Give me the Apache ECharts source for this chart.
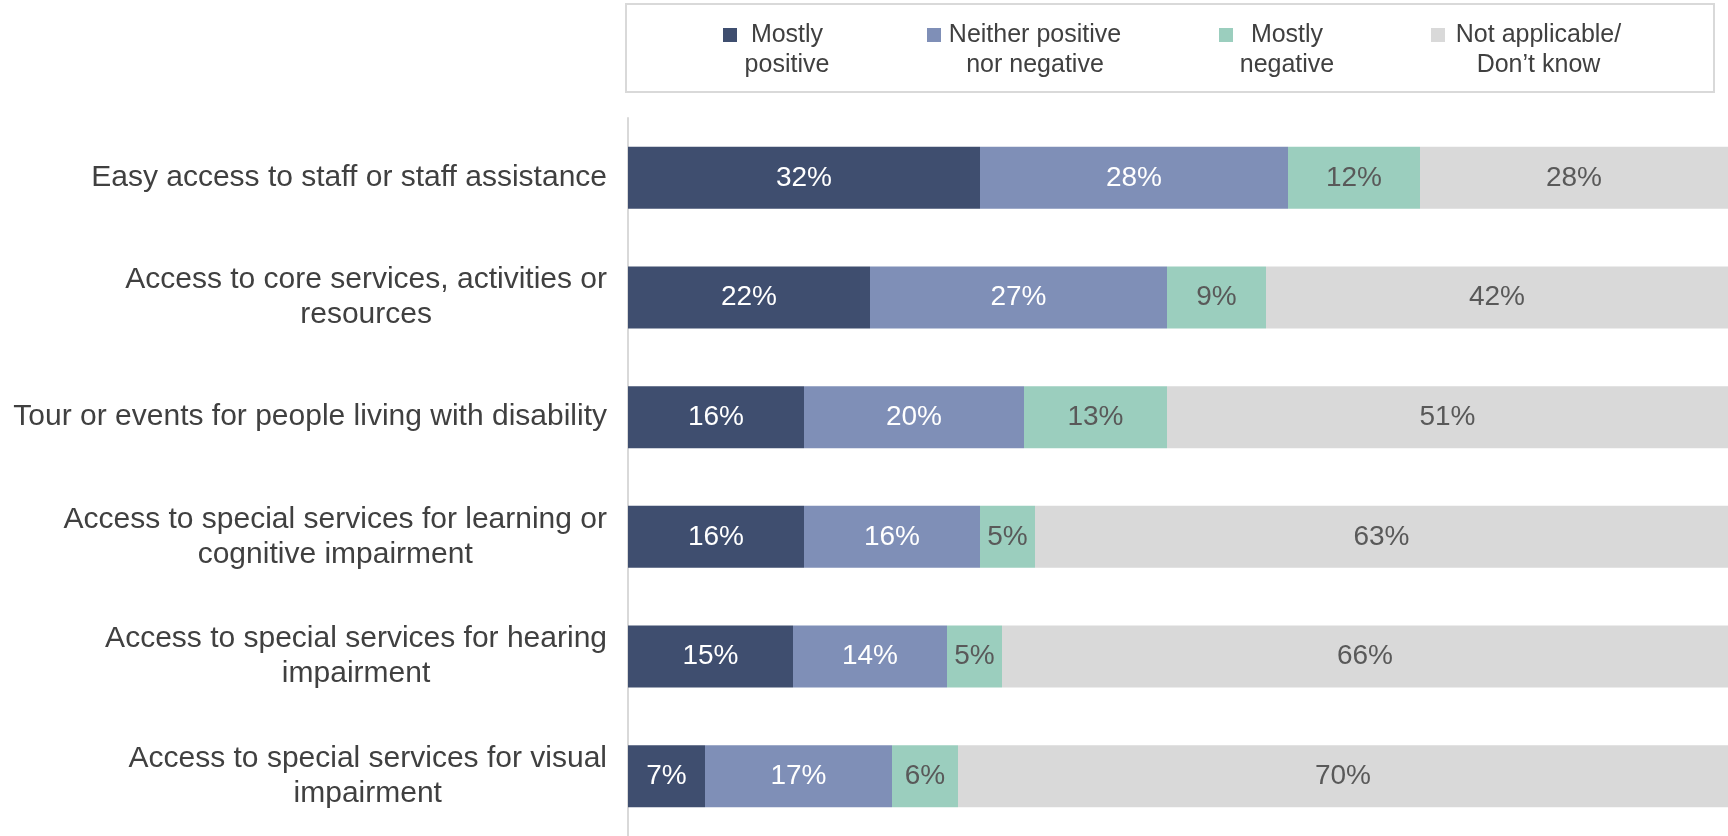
<!DOCTYPE html>
<html>
<head>
<meta charset="utf-8">
<script src="https://cdn.jsdelivr.net/npm/echarts@6/dist/echarts.min.js"></script>
<style>
  html, body { margin: 0; padding: 0; background: #ffffff; }
  #chart { width: 1728px; height: 836px; }
</style>
</head>
<body>
<div id="chart"></div>
<script>
// ---- Data ----
const categories = [
  'Easy access to staff or staff assistance',
  'Access to core services, activities or\nresources',
  'Tour or events for people living with disability',
  'Access to special services for learning or\ncognitive impairment',
  'Access to special services for hearing\nimpairment',
  'Access to special services for visual\nimpairment'
];
const seriesNames = [
  'Mostly\npositive',
  'Neither positive\nnor negative',
  'Mostly\nnegative',
  'Not applicable/\nDon\u2019t know'
];
const mostlyPositive = [32, 22, 16, 16, 15, 7];
const neitherPosNeg  = [28, 27, 20, 16, 14, 17];
const mostlyNegative = [12, 9, 13, 5, 5, 6];
const notApplicable  = [28, 42, 51, 63, 66, 70];

// ---- Styling ----
const FONT = "'Liberation Sans', Arial, sans-serif";
const colors = ['#3F4E6F', '#7F8FB7', '#9BCEBE', '#D9D9D9'];
const labelColors = ['#ffffff', '#ffffff', '#595959', '#595959'];
const legendTextWidths = [90, 178, 98, 177];

const values = [mostlyPositive, neitherPosNeg, mostlyNegative, notApplicable];

const legendRich = {};
legendTextWidths.forEach((w, i) => {
  legendRich['w' + i] = {
    width: w, align: 'center', fontSize: 25, lineHeight: 30,
    fontFamily: FONT, color: '#404040'
  };
});

const chart = echarts.init(document.getElementById('chart'), null, { renderer: 'canvas' });

const option = {
  backgroundColor: '#ffffff',
  animation: false,
  textStyle: { fontFamily: FONT },
  legend: {
    left: 626,
    top: 4,
    orient: 'horizontal',
    padding: [16.5, 87, 11.5, 97],
    borderColor: '#D9D9D9',
    borderWidth: 2,
    itemGap: 95,
    itemWidth: 14,
    itemHeight: 45,
    selectedMode: false,
    icon: 'path://M0,0L10,0L10,10L0,10Z M10,32.14L10,32.14',
    data: seriesNames,
    formatter: function (name) {
      const idx = seriesNames.indexOf(name);
      return name.split('\n').map(l => '{w' + idx + '|' + l + '}').join('\n');
    },
    textStyle: {
      fontSize: 25, lineHeight: 30, fontFamily: FONT, color: '#404040',
      rich: legendRich
    }
  },
  grid: { left: 628, right: 0, top: 118, bottom: -2, containLabel: false },
  xAxis: {
    type: 'value', min: 0, max: 100, show: false
  },
  yAxis: {
    type: 'category',
    inverse: true,
    data: categories,
    axisLine: { show: true, lineStyle: { color: '#D9D9D9', width: 2 } },
    axisTick: { show: false },
    splitLine: { show: false },
    axisLabel: {
      margin: 21,
      fontSize: 30,
      fontFamily: FONT,
      color: '#404040',
      lineHeight: 35,
      formatter: function (v) {
        return v.split('\n').map(l => '{c|' + l + '}').join('\n');
      },
      rich: {
        c: { align: 'center', fontSize: 30, lineHeight: 35, fontFamily: FONT, color: '#404040' }
      }
    }
  },
  series: seriesNames.map((name, i) => ({
    name: name,
    type: 'bar',
    stack: 'total',
    barWidth: 62,
    data: values[i],
    itemStyle: { color: colors[i] },
    label: {
      show: true,
      position: 'inside',
      formatter: '{c}%',
      fontSize: 28,
      fontFamily: FONT,
      color: labelColors[i]
    },
    emphasis: { disabled: true }
  }))
};

chart.setOption(option);
</script>
</body>
</html>
